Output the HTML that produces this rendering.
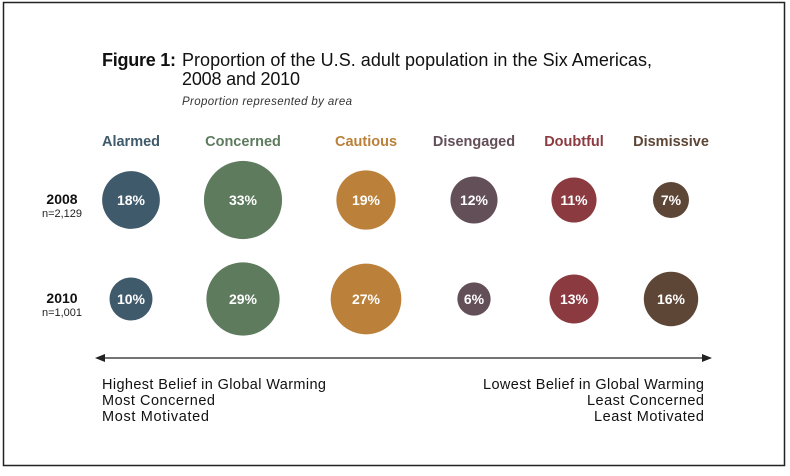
<!DOCTYPE html>
<html><head><meta charset="utf-8"><style>
body{margin:0;background:#fff;font-family:"Liberation Sans",Arial,sans-serif}
svg text{font-family:"Liberation Sans",Arial,sans-serif}
</style></head><body>
<svg width="790" height="471" viewBox="0 0 790 471">
<rect x="3.5" y="2.5" width="781" height="463" fill="#fff" stroke="#222" stroke-width="1.5"/>
<text x="102" y="66" font-size="18" font-weight="bold" fill="#111" textLength="74">Figure 1:</text>
<text x="182" y="66" font-size="18" fill="#111" textLength="470">Proportion of the U.S. adult population in the Six Americas,</text>
<text x="182" y="85" font-size="18" fill="#111" textLength="118">2008 and 2010</text>
<text x="182" y="105" font-size="11.5" font-style="italic" fill="#333" textLength="170">Proportion represented by area</text>
<g id="marks"></g>
<line x1="100" y1="358" x2="705" y2="358" stroke="#222" stroke-width="1.2"/>
<polygon points="95,358 105,354 105,362" fill="#222"/>
<polygon points="712,358 702,354 702,362" fill="#222"/>
<g font-size="14.5" fill="#111">
<text x="102" y="389" textLength="224">Highest Belief in Global Warming</text>
<text x="102" y="405" textLength="113">Most Concerned</text>
<text x="102" y="421" textLength="107">Most Motivated</text></g>
<g font-size="14.5" fill="#111" text-anchor="end">
<text x="704" y="389" textLength="221">Lowest Belief in Global Warming</text>
<text x="704" y="405" textLength="117">Least Concerned</text>
<text x="704" y="421" textLength="110">Least Motivated</text></g>
</svg>
<script>
const categories=["Alarmed","Concerned","Cautious","Disengaged","Doubtful","Dismissive"];
const years=["2008","2010"];
const sampleSizes=["n=2,129","n=1,001"];
const values2008=[18,33,19,12,11,7];
const values2010=[10,29,27,6,13,16];
const colors=["#3f5a6b","#5e7b5e","#bb803a","#634f58","#8b3a40","#5e4636"];
const NS="http://www.w3.org/2000/svg";
const g=document.getElementById("marks");
const xPos=i=>[131,243,366,474,574,671][i];
const yPos=r=>200+r*99;
const rad=v=>6.8*Math.sqrt(v);
function mk(tag,attrs,txt){const e=document.createElementNS(NS,tag);for(const k in attrs)e.setAttribute(k,attrs[k]);if(txt!==undefined)e.textContent=txt;g.appendChild(e);return e;}
categories.forEach((c,i)=>{
 const t=mk("text",{x:xPos(i),y:146,"font-size":14.5,"font-weight":"bold","text-anchor":"middle",fill:colors[i]},c);
 
 
});
years.forEach((y,r)=>{
 const t=mk("text",{x:62,y:yPos(r)+4,"font-size":14,"font-weight":"bold","text-anchor":"middle",fill:"#111"},y);
 
 
 const n=mk("text",{x:62,y:yPos(r)+17,"font-size":11,"text-anchor":"middle",fill:"#222"},sampleSizes[r]);
 
 
 const vals=r===0?values2008:values2010;
 vals.forEach((v,i)=>{
  const c=mk("circle",{cx:xPos(i),cy:yPos(r),r:rad(v),fill:colors[i]});
  
  
  const l=mk("text",{x:xPos(i),y:yPos(r)+5,"font-size":14,"font-weight":"bold","text-anchor":"middle",fill:"#fff"},v+"%");
  
  
 });
});
</script>
</body></html>
